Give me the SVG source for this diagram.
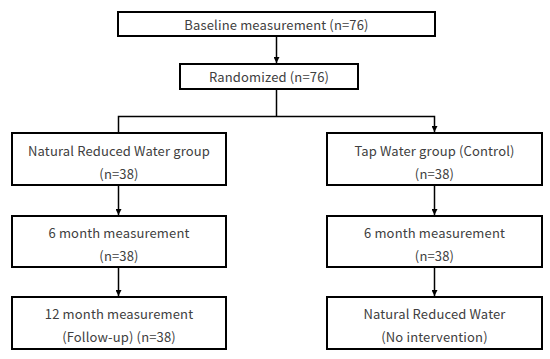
<svg xmlns="http://www.w3.org/2000/svg" width="550" height="359" viewBox="0 0 550 359">
<style>
.box{fill:#fff;stroke:#000;stroke-width:2}
.t{font-family:"Noto Sans CJK JP","Liberation Sans",sans-serif;font-size:13px;letter-spacing:0.15px;fill:#404040;text-anchor:middle;dominant-baseline:central}
.c{fill:none;stroke:#000;stroke-width:1.5}
</style>
<defs>
<marker id="ah" viewBox="0 0 10 10" refX="10" refY="5" markerWidth="6" markerHeight="6" markerUnits="userSpaceOnUse" orient="auto">
<path d="M0,0 L10,5 L0,10 z" fill="#000"/>
</marker>
</defs>
<rect width="550" height="359" fill="#fff"/>
<g id="connectors">
<line class="c" x1="276.5" y1="36" x2="276.5" y2="63" marker-end="url(#ah)"/>
<line class="c" x1="276.5" y1="89" x2="276.5" y2="116.5"/>
<polyline class="c" points="118.5,132 118.5,116.5 434.5,116.5 434.5,132" marker-start="url(#ah)" marker-end="url(#ah)"/>
<line class="c" x1="118.5" y1="185" x2="118.5" y2="215" marker-end="url(#ah)"/>
<line class="c" x1="118.5" y1="267" x2="118.5" y2="296" marker-end="url(#ah)"/>
<line class="c" x1="434.5" y1="185" x2="434.5" y2="215" marker-end="url(#ah)"/>
<line class="c" x1="434.5" y1="267" x2="434.5" y2="296" marker-end="url(#ah)"/>
</g>
<g id="baseline">
<rect class="box" x="118" y="12" width="317" height="24"/>
<text class="t" x="276.5" y="24">Baseline measurement (n=76)</text>
</g>
<g id="randomized">
<rect class="box" x="180" y="64" width="178" height="25"/>
<text class="t" x="269" y="76.5">Randomized (n=76)</text>
</g>
<g id="nrw-group">
<rect class="box" x="12" y="133" width="214" height="52"/>
<text class="t" x="119" y="150">Natural Reduced Water group</text>
<text class="t" x="119" y="173">(n=38)</text>
</g>
<g id="nrw-6m">
<rect class="box" x="12" y="216" width="214" height="51"/>
<text class="t" x="119" y="232">6 month measurement</text>
<text class="t" x="119" y="255">(n=38)</text>
</g>
<g id="nrw-12m">
<rect class="box" x="12" y="297" width="214" height="52"/>
<text class="t" x="119" y="313">12 month measurement</text>
<text class="t" x="119" y="336">(Follow-up) (n=38)</text>
</g>
<g id="tap-group">
<rect class="box" x="327" y="133" width="215" height="52"/>
<text class="t" x="434.5" y="150">Tap Water group (Control)</text>
<text class="t" x="434.5" y="173">(n=38)</text>
</g>
<g id="tap-6m">
<rect class="box" x="327" y="216" width="215" height="51"/>
<text class="t" x="434.5" y="232">6 month measurement</text>
<text class="t" x="434.5" y="255">(n=38)</text>
</g>
<g id="tap-12m">
<rect class="box" x="327" y="297" width="215" height="52"/>
<text class="t" x="434.5" y="313">Natural Reduced Water</text>
<text class="t" x="434.5" y="336">(No intervention)</text>
</g>
</svg>
